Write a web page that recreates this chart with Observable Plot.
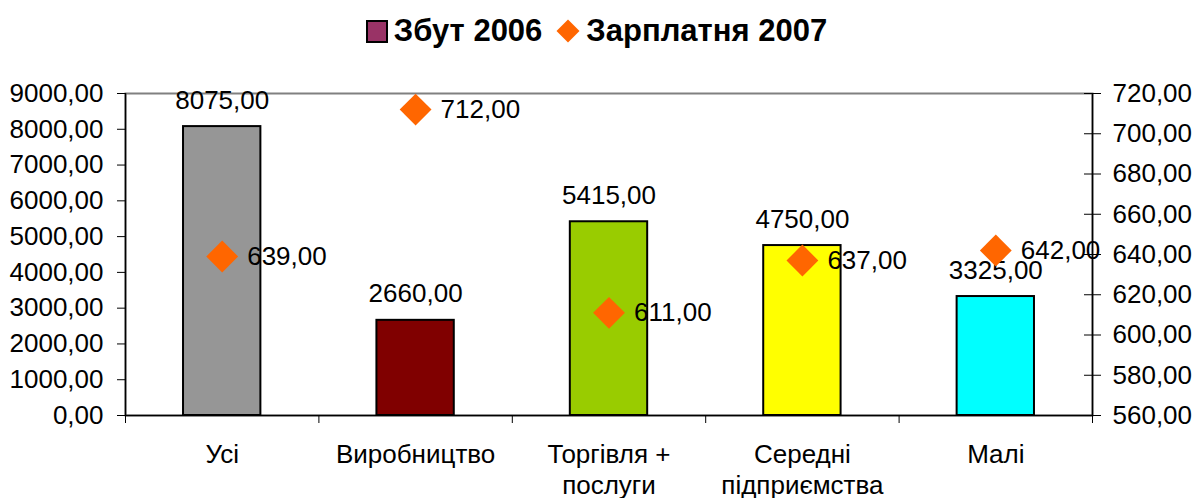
<!DOCTYPE html>
<html><head><meta charset="utf-8">
<script src="https://cdn.jsdelivr.net/npm/d3@7"></script>
<script src="https://cdn.jsdelivr.net/npm/@observablehq/plot@0.6"></script>
<style>
body{margin:0;background:#fff;font-family:"Liberation Sans",Arial,sans-serif;}
#legend{height:58px;display:flex;align-items:center;justify-content:center;font-weight:bold;font-size:31px;color:#000;padding-top:2px;}
#legend .item{display:flex;align-items:center;margin:0 7px;}
#legend .sw{margin-right:6px;display:block;}
</style></head><body>
<div id="legend"></div>
<div id="chart"></div>
<script>
const categories = ["Усі", "Виробництво", "Торгівля +\nпослуги", "Середні\nпідприємства", "Малі"];
const sales2006 = [8075, 2660, 5415, 4750, 3325];
const salary2007 = [639, 712, 611, 637, 642];
const barColors = ["#969696", "#800000", "#99CC00", "#FFFF00", "#00FFFF"];
const leftTicks = [0, 1000, 2000, 3000, 4000, 5000, 6000, 7000, 8000, 9000];
const rightTicks = [560, 580, 600, 620, 640, 660, 680, 700, 720];
const seriesNames = ["Збут 2006", "Зарплатня 2007"];
const seriesColors = ["#993366", "#FF6600"];
const leftDomain = [0, 9000];
const rightDomain = [560, 720];

const fmt = v => (+v).toFixed(2).replace(".", ",");
const toLeft = v => (v - rightDomain[0]) / (rightDomain[1] - rightDomain[0]) * (leftDomain[1] - leftDomain[0]) + leftDomain[0];
const fromLeft = v => (v - leftDomain[0]) / (leftDomain[1] - leftDomain[0]) * (rightDomain[1] - rightDomain[0]) + rightDomain[0];

// legend
const leg = document.getElementById("legend");
leg.innerHTML =
  `<span class="item"><svg class="sw" width="22" height="23"><rect x="1" y="1" width="20" height="21" fill="${seriesColors[0]}" stroke="#000" stroke-width="2"/></svg>${seriesNames[0]}</span>` +
  `<span class="item"><svg class="sw" width="24" height="24"><path d="M12,0.5L23.5,12L12,23.5L0.5,12Z" fill="${seriesColors[1]}"/></svg>${seriesNames[1]}</span>`;

const data = categories.map((c, i) => ({c, i, sales: sales2006[i], salary: salary2007[i], color: barColors[i]}));
const n = categories.length;

const chart = Plot.plot({
  width: 1193, height: 438,
  marginTop: 33, marginBottom: 83, marginLeft: 125, marginRight: 101,
  style: {fontFamily: "'Liberation Sans', Arial, sans-serif", fontSize: "26px", color: "#000", background: "#fff", overflow: "visible"},
  x: {domain: [0, n], axis: null},
  y: {domain: leftDomain, axis: null},
  marks: [
    Plot.frame({stroke: "#808080", strokeWidth: 2}),
    Plot.rectY(data, {x1: d => d.i + 0.3, x2: d => d.i + 0.7, y1: 0, y2: "sales", fill: "color", stroke: "#000", strokeWidth: 2}),
    Plot.ruleX([0, n], {stroke: "#000", strokeWidth: 1.5}),
    Plot.ruleY([0], {stroke: "#000", strokeWidth: 1.5}),
    Plot.axisY({anchor: "left", ticks: leftTicks, tickFormat: fmt, tickSize: 8, tickPadding: 14, label: null, stroke: "#000", fill: "#000"}),
    Plot.axisY({anchor: "right", ticks: rightTicks.map(toLeft), tickFormat: v => fmt(Math.round(fromLeft(v))), tickSize: 8, tickPadding: 12, label: null, stroke: "#000", fill: "#000"}),
    Plot.axisY({anchor: "right", ticks: rightTicks.map(toLeft), tickFormat: () => "", tickSize: -9, label: null, stroke: "#000"}),
    Plot.axisX({anchor: "bottom", ticks: d3.range(n + 1), tickFormat: () => "", tickSize: 8, label: null, stroke: "#000"}),
    Plot.text(data, {x: d => d.i + 0.5, y: 0, text: "c", dy: 26, lineAnchor: "top", lineHeight: 1.18, fill: "#000"}),
    Plot.text(data, {x: d => d.i + 0.5, y: "sales", text: d => fmt(d.sales), dy: -18, lineAnchor: "bottom", fill: "#000"}),
    Plot.dot(data, {x: d => d.i + 0.5, y: d => toLeft(d.salary), symbol: "square", r: 12.7, rotate: 45, fill: seriesColors[1], stroke: "none"}),
    Plot.text(data, {x: d => d.i + 0.5, y: d => toLeft(d.salary), text: d => fmt(d.salary), dx: 25, textAnchor: "start", lineAnchor: "middle", fill: "#000"})
  ]
});
document.getElementById("chart").appendChild(chart);
</script>
</body></html>
